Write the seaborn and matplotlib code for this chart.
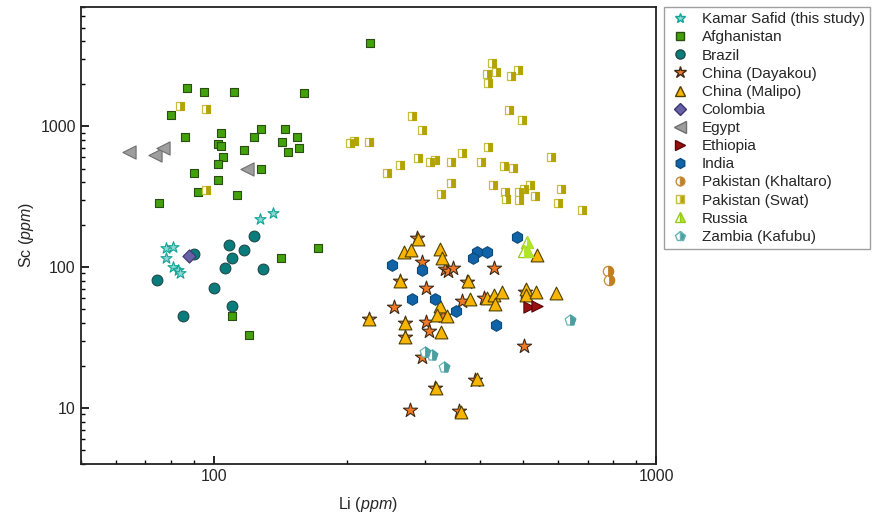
import matplotlib
matplotlib.use("Agg")
import matplotlib.pyplot as plt
import seaborn as sns
import pandas as pd
from matplotlib.markers import MarkerStyle
from matplotlib.lines import Line2D
from matplotlib.ticker import LogLocator, NullFormatter

# Li / Sc (ppm)
kamar_li = [127, 136, 78, 81, 78, 81, 83, 84]
kamar_sc = [220, 243, 136, 139, 116, 100, 95, 91]

afgh_li = [226, 87, 95, 111, 160, 80, 104, 128, 145, 86, 123, 154, 143, 102, 104,
           117, 156, 147, 105, 102, 128, 90, 102, 92, 113, 75, 172, 142, 110, 120]
afgh_sc = [3908, 1867, 1750, 1758, 1710, 1208, 891, 951, 951, 830, 840, 830, 769, 745, 721,
           680, 694, 650, 606, 535, 493, 467, 417, 339, 322, 284, 136, 115, 45, 33]

brazil_li = [123, 108, 117, 90, 110, 106, 129, 74.5, 100, 110, 85]
brazil_sc = [166, 143, 133, 123, 115, 99, 97, 81, 71, 53, 45]

dayakou_li = [288, 295, 333, 338, 302, 255, 302, 307, 295, 316, 278, 224, 264, 270, 271,
              347, 431, 374, 365, 408, 506, 503, 389, 359, 329]
dayakou_sc = [160, 108, 96.5, 93, 71, 52, 41, 35, 23, 13.9, 9.6, 43, 80, 40, 32,
              99, 98, 78, 57, 60, 67, 27.5, 15.7, 9.5, 45]

malipo_li = [289, 269, 279, 325, 328, 264, 325, 320, 336, 270, 326, 271, 318, 224,
             539, 375, 380, 415, 431, 448, 432, 509, 508, 534, 594, 394, 363]
malipo_sc = [157, 127, 132, 135, 115, 80, 52.5, 46, 45, 40, 34.4, 32, 13.8, 43,
             122, 79, 59, 60, 63, 66, 55, 70, 63.5, 66.6, 65.5, 16, 9.4]

colombia_li = [88]
colombia_sc = [119]

egypt_li = [64.4, 73.7, 76.6, 119]
egypt_sc = [650, 622, 694, 493]

ethiopia_li = [515, 538]
ethiopia_sc = [51.7, 52.8]

india_li = [253, 295, 280, 316, 486, 393, 414, 386, 353, 434]
india_sc = [103, 95, 59, 59, 163, 127, 127, 115, 49, 39]

khaltaro_li = [777, 781]
khaltaro_sc = [94, 81.5]

swat_li = [84, 96, 96, 280, 295, 203, 208, 224, 425, 414, 434, 418, 488, 470, 465, 498,
           247, 263, 289, 308, 317, 344, 365, 402, 418, 452, 475, 580, 344, 327, 428,
           456, 490, 457, 490, 502, 519, 532, 610, 600, 681]
swat_sc = [1400, 1317, 352, 1170, 941, 757, 778, 769, 2808, 2358, 2424, 2026, 2489, 2271, 1296, 1096,
           464, 532, 593, 555, 577, 552, 640, 555, 705, 517, 503, 599, 392, 329, 381,
           340, 340, 306, 299, 356, 381, 319, 357, 283, 255]

russia_li = [510, 512, 504]
russia_sc = [151, 130, 129]

zambia_li = [300, 312, 331, 640]
zambia_sc = [25, 23.7, 19.4, 42.2]

# label, li, sc, marker, face, edge, size, half-filled
groups = [
    ("Kamar Safid (this study)", kamar_li, kamar_sc, "*", "#8ad8d0", "#12a398", 70, False),
    ("Afghanistan", afgh_li, afgh_sc, "s", "#43a10c", "#2a4d14", 40, False),
    ("Brazil", brazil_li, brazil_sc, "o", "#0a7c7c", "#1f4a4a", 60, False),
    ("China (Dayakou)", dayakou_li, dayakou_sc, "*", "#f27a24", "#3d2a18", 115, False),
    ("China (Malipo)", malipo_li, malipo_sc, "^", "#f8b500", "#4f4000", 85, False),
    ("Colombia", colombia_li, colombia_sc, "D", "#6861a6", "#3b3770", 45, False),
    ("Egypt", egypt_li, egypt_sc, "<", "#9e9e9e", "#6e6e6e", 90, False),
    ("Ethiopia", ethiopia_li, ethiopia_sc, ">", "#9a0f0f", "#5a0505", 65, False),
    ("India", india_li, india_sc, "h", "#0f63a6", "#0b4a7c", 70, False),
    ("Pakistan (Khaltaro)", khaltaro_li, khaltaro_sc, "o", "#bf7f22", "#c58b3c", 55, True),
    ("Pakistan (Swat)", swat_li, swat_sc, "s", "#b3a300", "#c9bc45", 38, True),
    ("Russia", russia_li, russia_sc, "^", "#b2e42a", "#97cc1c", 75, True),
    ("Zambia (Kafubu)", zambia_li, zambia_sc, "p", "#4c9fa0", "#6bb3b3", 65, True),
]

sns.set_style("ticks")
plt.rcParams["font.family"] = ["Liberation Sans", "DejaVu Sans"]
plt.rcParams["mathtext.fontset"] = "custom"
plt.rcParams["mathtext.rm"] = "Liberation Sans"
plt.rcParams["mathtext.it"] = "Liberation Sans:italic"

fig = plt.figure(figsize=(8.74, 5.23), dpi=100)
ax = fig.add_axes([0.0923, 0.1128, 0.6583, 0.8738])

handles = []
for label, li, sc, mk, face, edge, size, half in groups:
    df = pd.DataFrame({"Li": li, "Sc": sc})
    ms = size ** 0.5 * 0.85
    if half:
        sns.scatterplot(data=df, x="Li", y="Sc", marker=mk, s=size, color="white",
                        edgecolor=edge, linewidth=0.9, ax=ax, legend=False, zorder=3)
        sns.scatterplot(data=df, x="Li", y="Sc", marker=MarkerStyle(mk, fillstyle="right"),
                        s=size, color=face, edgecolor=face, linewidth=0.6, ax=ax,
                        legend=False, zorder=3)
        handles.append(Line2D([], [], ls="none", marker=mk, markersize=ms,
                              markerfacecolor=face, markerfacecoloralt="white",
                              fillstyle="right", markeredgecolor=edge, label=label))
    else:
        sns.scatterplot(data=df, x="Li", y="Sc", marker=mk, s=size, color=face,
                        edgecolor=edge, linewidth=0.8, ax=ax, legend=False, zorder=3)
        handles.append(Line2D([], [], ls="none", marker=mk, markersize=ms,
                              markerfacecolor=face, markeredgecolor=edge, label=label))

ax.set_xscale("log")
ax.set_yscale("log")
ax.set_xlim(50, 1000)
ax.set_ylim(4, 7000)

for axis in (ax.xaxis, ax.yaxis):
    axis.set_minor_locator(LogLocator(base=10, subs=range(2, 10)))
    axis.set_minor_formatter(NullFormatter())
ax.set_xticks([100, 1000])
ax.set_xticklabels(["100", "1000"])
ax.set_yticks([10, 100, 1000])
ax.set_yticklabels(["10", "100", "1000"])
ax.tick_params(which="major", direction="in", length=6, width=1.2, labelsize=11.5,
               color="black", top=False, right=False)
ax.tick_params(which="minor", direction="in", length=3, width=1.0, color="black",
               top=False, right=False)
for sp in ax.spines.values():
    sp.set_color("#222222")
    sp.set_linewidth(1.3)

ax.set_xlabel(r"Li $\mathit{(ppm)}$", fontsize=11.5, labelpad=8)
ax.set_ylabel(r"Sc $\mathit{(ppm)}$", fontsize=11.5, labelpad=3)

leg = fig.legend(handles=handles, loc="upper left", bbox_to_anchor=(0.760, 0.9866),
                 bbox_transform=fig.transFigure, fontsize=11, frameon=True,
                 fancybox=False, borderaxespad=0, borderpad=0.35, labelspacing=0.27,
                 handlelength=1.4, handletextpad=0.7)
leg.get_frame().set_edgecolor("#888888")
leg.get_frame().set_linewidth(1.0)

fig.savefig("out.png", dpi=100)
